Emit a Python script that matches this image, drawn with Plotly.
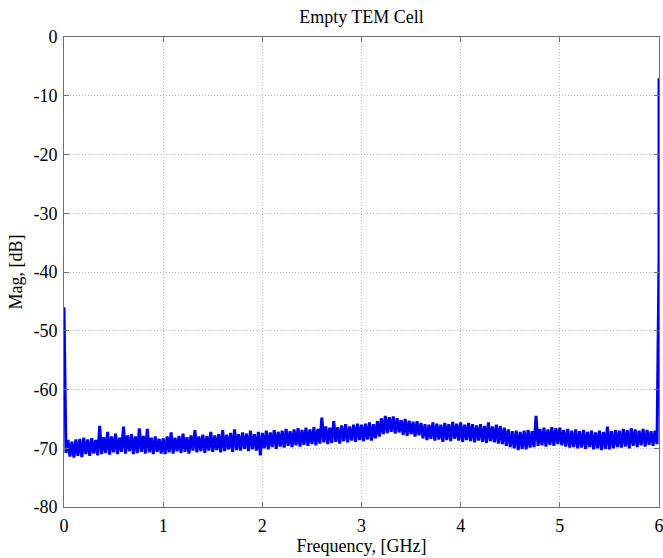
import numpy as np
import plotly.graph_objects as go

# Frequency samples, GHz (0.00 .. 6.00 in 0.02 steps, plus the final spike at 6.00)
freq_ghz = [round(i * 0.02, 2) for i in range(301)] + [6.0]

# Magnitude, dB
mag_db = [
    -46.0, -70.8, -68.6, -71.4, -68.9, -71.6, -68.5, -71.3, -68.4, -71.5,
    -68.2, -71.0, -68.5, -71.3, -68.3, -70.9, -68.6, -71.2, -66.2, -71.0,
    -68.1, -70.8, -67.2, -71.1, -68.0, -70.7, -67.5, -71.0, -68.2, -70.6,
    -66.3, -70.9, -67.8, -70.5, -67.6, -71.0, -68.0, -70.8, -66.6, -70.6,
    -67.9, -70.9, -66.7, -70.7, -68.2, -71.0, -68.0, -70.6, -68.4, -70.9,
    -68.3, -71.0, -68.0, -70.7, -67.3, -70.9, -68.2, -70.5, -67.9, -70.8,
    -67.5, -70.6, -68.1, -70.9, -67.8, -70.4, -66.9, -70.7, -68.0, -70.5,
    -67.7, -70.8, -67.9, -70.4, -67.2, -70.6, -67.8, -70.3, -67.6, -70.7,
    -66.9, -70.5, -67.7, -70.2, -67.4, -70.6, -66.8, -70.3, -67.6, -70.4,
    -67.3, -70.1, -67.5, -70.5, -67.0, -70.2, -67.6, -70.4, -67.2, -71.2,
    -67.4, -70.0, -67.0, -70.2, -67.3, -69.8, -66.9, -70.1, -67.2, -69.7,
    -67.0, -69.9, -66.7, -69.6, -67.1, -69.8, -66.8, -69.5, -66.6, -69.7,
    -66.9, -69.4, -66.5, -69.6, -66.8, -69.3, -66.4, -69.5, -66.7, -69.2,
    -64.8, -69.0, -66.3, -69.3, -66.5, -69.1, -65.4, -68.9, -66.4, -69.2,
    -66.1, -68.8, -65.9, -69.0, -66.3, -68.7, -66.0, -68.9, -65.8, -68.6,
    -66.0, -68.8, -65.8, -68.5, -65.6, -68.7, -65.9, -68.3, -65.4, -68.0,
    -64.9, -67.6, -64.5, -67.4, -64.7, -67.2, -64.6, -67.5, -64.9, -67.3,
    -65.2, -67.7, -65.0, -67.9, -65.3, -67.6, -65.5, -68.0, -65.4, -67.8,
    -65.7, -68.3, -65.9, -68.6, -66.0, -68.4, -65.6, -68.7, -65.8, -68.5,
    -66.0, -68.9, -65.7, -68.6, -65.9, -68.8, -65.5, -68.4, -65.8, -68.7,
    -65.6, -68.9, -66.0, -68.6, -65.7, -68.8, -65.9, -69.0, -66.1, -68.7,
    -65.9, -68.9, -66.2, -69.1, -65.6, -68.8, -66.3, -69.0, -66.0, -69.2,
    -66.2, -69.3, -66.5, -69.6, -66.8, -69.8, -67.1, -70.0, -67.0, -70.3,
    -67.2, -70.1, -67.0, -70.2, -66.9, -69.9, -67.1, -69.8, -64.5, -69.6,
    -66.7, -69.5, -66.5, -69.7, -66.8, -69.4, -66.4, -69.6, -66.6, -69.3,
    -66.5, -69.5, -66.9, -69.7, -66.7, -69.9, -67.0, -69.8, -66.8, -70.0,
    -67.1, -69.9, -66.9, -70.1, -67.2, -69.8, -67.0, -70.2, -67.3, -70.0,
    -67.0, -70.3, -67.2, -70.1, -66.3, -70.2, -67.1, -70.0, -66.9, -69.8,
    -67.0, -69.9, -66.7, -69.7, -66.9, -70.0, -66.6, -69.6, -66.8, -69.8,
    -67.0, -69.5, -66.7, -69.7, -66.9, -69.4, -67.1, -69.6, -67.0, -69.3,
    -38.0, -7.0,
]

x_ticks = [0, 1, 2, 3, 4, 5, 6]
x_ticktext = ["0", "1", "2", "3", "4", "5", "6"]
y_ticks = [-80, -70, -60, -50, -40, -30, -20, -10, 0]
y_ticktext = ["-80", "-70", "-60", "-50", "-40", "-30", "-20", "-10", "0"]

serif = "Liberation Serif, Times New Roman, serif"

fig = go.Figure()
fig.add_trace(go.Scatter(
    x=freq_ghz, y=mag_db, mode="lines",
    line=dict(color="#0000ee", width=3),
    showlegend=False,
))

axis_common = dict(
    showline=True, linecolor="#6e6e6e", linewidth=1, mirror="ticks",
    ticks="inside", ticklen=5, tickcolor="#6e6e6e",
    showgrid=True, gridcolor="#bcbcbc", griddash="1px,2px", gridwidth=1,
    zeroline=False, ticklabeloverflow="allow", automargin=False,
    tickfont=dict(family=serif, size=18, color="black"),
)

fig.update_layout(
    width=663, height=558,
    margin=dict(l=64, r=4, t=37, b=51),
    paper_bgcolor="white", plot_bgcolor="white",
    font=dict(family=serif, color="black"),
    title=dict(text="Empty TEM Cell", x=0.5, xanchor="center",
               xref="paper", yref="container", y=1 - 17 / 558, yanchor="middle",
               font=dict(family=serif, size=18, color="black")),
    xaxis=dict(range=[0, 6], tickvals=x_ticks, ticktext=x_ticktext,
               title=dict(text="Frequency, [GHz]", standoff=0,
                          font=dict(family=serif, size=18, color="black")),
               ticklabelstandoff=2,
               **axis_common),
    yaxis=dict(range=[-80, 0], tickvals=y_ticks, ticktext=y_ticktext,
               title=dict(text="Mag, [dB]", standoff=6,
                          font=dict(family=serif, size=18, color="black")),
               ticklabelstandoff=2,
               **axis_common),
)

fig.write_html("out.html", config={"displayModeBar": False},
               post_script="document.body.style.margin='0px';")
